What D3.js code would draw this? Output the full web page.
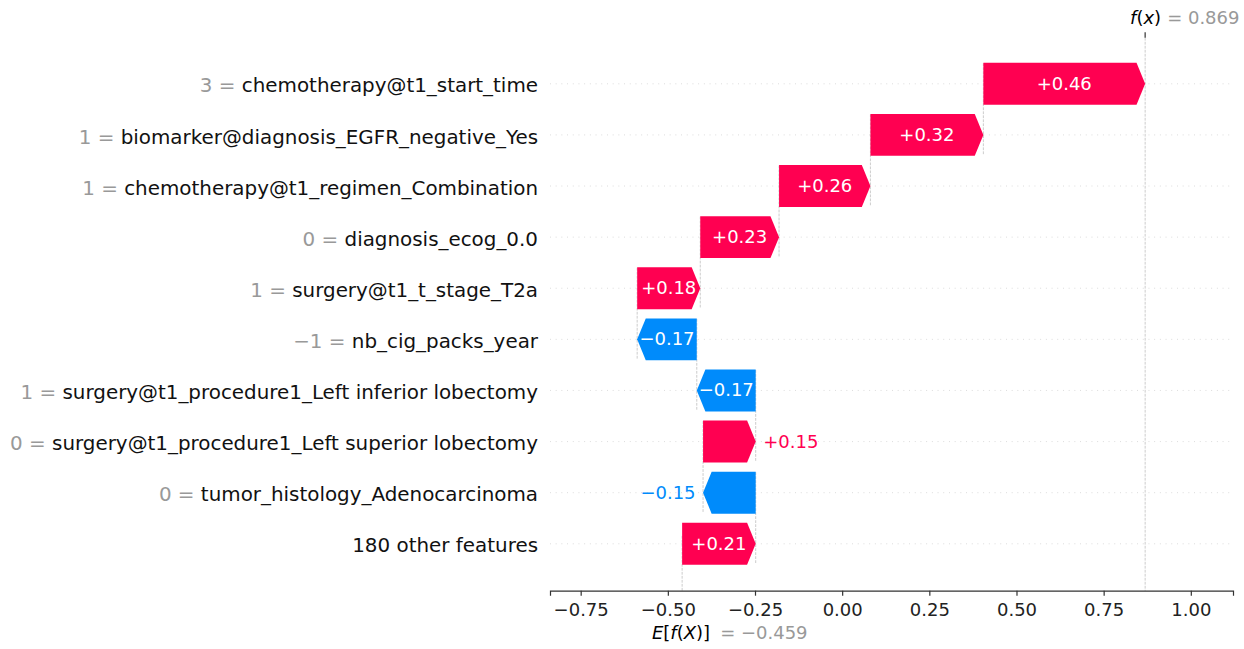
<!DOCTYPE html>
<html>
<head>
<meta charset="utf-8">
<script src="https://cdn.jsdelivr.net/npm/d3@7"></script>
<style>
  body { margin: 0; background: #fff; }
  text { font-family: "DejaVu Sans", sans-serif; }
</style>
</head>
<body>
<div id="chart"></div>
<script>
// feature values / names / shap values, top row first
const featureValues = ["3", "1", "1", "0", "1", "\u22121", "1", "0", "0", ""];
const featureNames = [
  "chemotherapy@t1_start_time",
  "biomarker@diagnosis_EGFR_negative_Yes",
  "chemotherapy@t1_regimen_Combination",
  "diagnosis_ecog_0.0",
  "surgery@t1_t_stage_T2a",
  "nb_cig_packs_year",
  "surgery@t1_procedure1_Left inferior lobectomy",
  "surgery@t1_procedure1_Left superior lobectomy",
  "tumor_histology_Adenocarcinoma",
  "180 other features"
];
const shapValues = [0.464, 0.324, 0.262, 0.226, 0.181, -0.171, -0.169, 0.151, -0.151, 0.211];
const baseValue = -0.459;
const xTicks = [-0.75, -0.5, -0.25, 0, 0.25, 0.5, 0.75, 1.0];

const red = "#ff0051";
const blue = "#008bfb";
const axisColor = "#333333";

const width = 1244;
const height = 649;
const n = shapValues.length;
const fx = baseValue + d3.sum(shapValues);

const svg = d3.select("#chart").append("svg")
  .attr("width", width)
  .attr("height", height);

const x = d3.scaleLinear().domain([-0.838, 1.121]).range([550, 1233]);
// row index: 0 = bottom row
const y = d3.scaleLinear().domain([-0.918, 9.9]).range([590.7, 37.8]);
const step = y(0) - y(1);
const barH = step * 0.82;
const headLen = 8.6; // 0.08 inch at 108 dpi

const rowY = i => y(n - 1 - i);

// horizontal dotted grid lines
svg.selectAll("line.grid")
  .data(d3.range(n))
  .enter()
  .append("line")
  .attr("class", "grid")
  .attr("x1", x.range()[0])
  .attr("x2", x.range()[1])
  .attr("y1", i => rowY(i))
  .attr("y2", i => rowY(i))
  .attr("stroke", "#cccccc")
  .attr("stroke-width", 0.75)
  .attr("stroke-dasharray", "0.9,4.8");

// waterfall positions
let loc = fx;
const bars = shapValues.map((v, i) => {
  const end = loc;
  const start = loc - v;
  loc = start;
  return { i, v, start, end };
});

// connecting dashed lines (all rows except the "other features" row)
svg.selectAll("line.conn")
  .data(bars.slice(0, n - 1))
  .enter()
  .append("line")
  .attr("class", "conn")
  .attr("x1", d => x(d.start))
  .attr("x2", d => x(d.start))
  .attr("y1", d => rowY(d.i) - 0.4 * step)
  .attr("y2", d => rowY(d.i + 1) + 0.4 * step)
  .attr("stroke", "#bbbbbb")
  .attr("stroke-width", 0.75)
  .attr("stroke-dasharray", "2.8,1.2");

// f(x) and E[f(X)] lines
svg.append("line")
  .attr("x1", x(fx)).attr("x2", x(fx))
  .attr("y1", y.range()[1]).attr("y2", y.range()[0])
  .attr("stroke", "#bbbbbb").attr("stroke-width", 0.75)
  .attr("stroke-dasharray", "2.8,1.2");
svg.append("line")
  .attr("x1", x(baseValue)).attr("x2", x(baseValue))
  .attr("y1", y.range()[0])
  .attr("y2", y.range()[0] - (y.range()[0] - y.range()[1]) / n)
  .attr("stroke", "#bbbbbb").attr("stroke-width", 0.75)
  .attr("stroke-dasharray", "2.8,1.2");

// arrows
function arrowPath(d) {
  const x0 = x(d.start), x1 = x(d.end);
  const dist = Math.abs(x1 - x0);
  const hl = Math.min(headLen, dist);
  const dir = d.v >= 0 ? 1 : -1;
  const yc = rowY(d.i);
  const t = yc - barH / 2, b = yc + barH / 2;
  const neck = x1 - dir * hl;
  return `M${x0},${t}L${neck},${t}L${x1},${yc}L${neck},${b}L${x0},${b}Z`;
}

svg.selectAll("path.bar")
  .data(bars)
  .enter()
  .append("path")
  .attr("class", "bar")
  .attr("d", arrowPath)
  .attr("fill", d => d.v >= 0 ? red : blue);

// bar labels: inside if they fit, else outside
const fmt = d3.format("+.2f");
bars.forEach(d => {
  const x0 = x(d.start), x1 = x(d.end);
  const barW = Math.abs(x1 - x0);
  const label = fmt(d.v).replace("-", "\u2212");
  const t = svg.append("text")
    .attr("x", (x0 + x1) / 2)
    .attr("y", rowY(d.i) + 6)
    .attr("text-anchor", "middle")
    .attr("font-size", 18)
    .attr("fill", "white")
    .text(label);
  if (t.node().getComputedTextLength() > barW) {
    const dir = d.v >= 0 ? 1 : -1;
    t.attr("x", x1 + dir * 7.5)
      .attr("text-anchor", dir > 0 ? "start" : "end")
      .attr("fill", d.v >= 0 ? red : blue);
  }
});

// y labels
const ylab = svg.selectAll("text.ylab")
  .data(d3.range(n))
  .enter()
  .append("text")
  .attr("class", "ylab")
  .attr("x", 538)
  .attr("y", i => rowY(i) + 8.7)
  .attr("text-anchor", "end")
  .attr("font-size", 19.9);
ylab.append("tspan")
  .attr("fill", "#999999")
  .text(i => featureValues[i] === "" ? "" : featureValues[i] + " = ");
ylab.append("tspan")
  .attr("fill", "#111")
  .text(i => featureNames[i]);

// bottom axis
const xAxis = svg.append("g")
  .attr("transform", `translate(0,${y.range()[0]})`)
  .call(d3.axisBottom(x).tickValues(xTicks).tickFormat(d3.format(".2f")).tickSizeOuter(0).tickSize(5));
xAxis.select(".domain").attr("stroke", axisColor).attr("stroke-width", 1.2);
xAxis.selectAll(".tick line").attr("stroke", axisColor).attr("stroke-width", 1.2);
xAxis.selectAll(".tick text")
  .attr("fill", "#222")
  .attr("font-size", 18)
  .attr("font-family", "DejaVu Sans")
  .attr("dy", null)
  .attr("y", 25);

// top tick for f(x)
svg.append("line")
  .attr("x1", x(fx)).attr("x2", x(fx))
  .attr("y1", y.range()[1] - 5.5).attr("y2", y.range()[1])
  .attr("stroke", axisColor).attr("stroke-width", 1.2);

const fxLab = svg.append("text")
  .attr("x", x(fx) + 16)
  .attr("y", 24)
  .attr("font-size", 18)
  .attr("text-anchor", "end")
  .attr("fill", "#000");
fxLab.append("tspan").attr("font-style", "italic").text("f");
fxLab.append("tspan").text("(");
fxLab.append("tspan").attr("font-style", "italic").text("x");
fxLab.append("tspan").text(")");
svg.append("text")
  .attr("x", x(fx) + 22)
  .attr("y", 24)
  .attr("font-size", 18)
  .attr("fill", "#999999")
  .text("= " + d3.format(".3f")(fx));

const eLab = svg.append("text")
  .attr("x", x(baseValue) + 28)
  .attr("y", 639)
  .attr("font-size", 18)
  .attr("text-anchor", "end")
  .attr("fill", "#000");
eLab.append("tspan").attr("font-style", "italic").text("E");
eLab.append("tspan").text("[");
eLab.append("tspan").attr("font-style", "italic").text("f");
eLab.append("tspan").text("(");
eLab.append("tspan").attr("font-style", "italic").text("X");
eLab.append("tspan").text(")]");
svg.append("text")
  .attr("x", x(baseValue) + 38)
  .attr("y", 639)
  .attr("font-size", 18)
  .attr("fill", "#999999")
  .text("= " + d3.format(".3f")(baseValue));
</script>
</body>
</html>
